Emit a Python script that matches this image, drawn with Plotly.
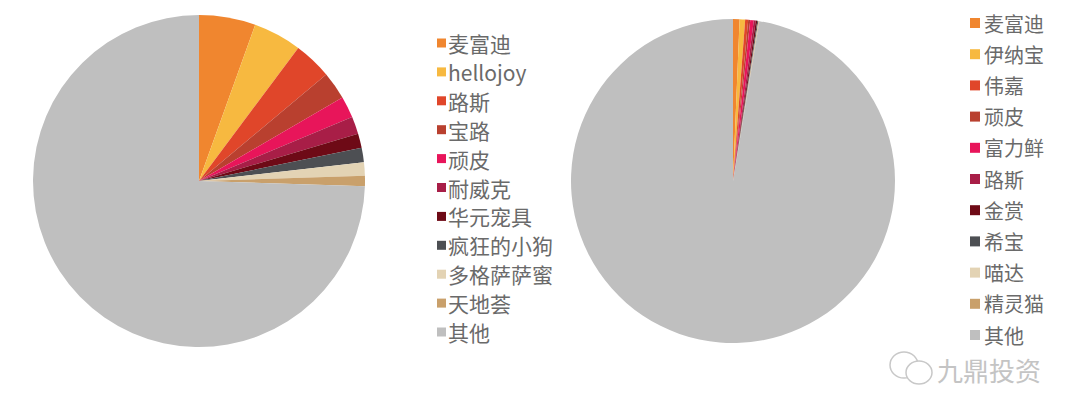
import plotly.graph_objects as go

# Left pie data
left_labels = ["麦富迪", "hellojoy", "路斯", "宝路", "顽皮", "耐威克", "华元宠具", "疯狂的小狗", "多格萨萨蜜", "天地荟", "其他"]
left_values = [5.5, 4.7, 3.7, 2.7, 2.1, 1.7, 1.4, 1.4, 1.3, 1.0, 74.5]

# Right pie data
right_labels = ["麦富迪", "伊纳宝", "伟嘉", "顽皮", "富力鲜", "路斯", "金赏", "希宝", "喵达", "精灵猫", "其他"]
right_values = [0.65, 0.55, 0.3, 0.2, 0.35, 0.2, 0.15, 0.1, 0.05, 0.05, 97.4]

colors = ["#F0862F", "#F7B940", "#E0462A", "#B9402F", "#E8155A", "#A81E47",
          "#6E0A16", "#4D4F53", "#E3D3B4", "#C9A06B", "#BFBFBF"]

W, H = 1080, 413
OFF = 8  # page body margin

def px_x(x):
    return (x - OFF) / W

def px_y(y):
    return 1 - (y - OFF) / H

fig = go.Figure()

fig.add_trace(go.Pie(
    labels=left_labels, values=left_values, sort=False, direction="clockwise",
    rotation=0, textinfo="none", hoverinfo="label+percent",
    marker=dict(colors=colors, line=dict(width=0)),
    domain=dict(x=[px_x(33), px_x(365)], y=[px_y(347), px_y(15)]),
    showlegend=False,
))
fig.add_trace(go.Pie(
    labels=right_labels, values=right_values, sort=False, direction="clockwise",
    rotation=0, textinfo="none", hoverinfo="label+percent",
    marker=dict(colors=colors, line=dict(width=0)),
    domain=dict(x=[px_x(571), px_x(895)], y=[px_y(343), px_y(19)]),
    showlegend=False,
))

shapes = []
annotations = []

def add_legend(labels, sq_x0, sq_size, text_x, y0, dy, font_size):
    for i, lab in enumerate(labels):
        yc = y0 + i * dy
        shapes.append(dict(type="rect", xref="paper", yref="paper",
                           x0=px_x(sq_x0), x1=px_x(sq_x0 + sq_size),
                           y0=px_y(yc + sq_size / 2), y1=px_y(yc - sq_size / 2),
                           fillcolor=colors[i], line=dict(width=0)))
        annotations.append(dict(xref="paper", yref="paper", x=px_x(text_x), y=px_y(yc),
                                xanchor="left", yanchor="middle", text=lab, showarrow=False,
                                font=dict(size=font_size, color="#6A6A6A",
                                          family="Noto Sans CJK SC, Noto Sans, sans-serif")))

add_legend(left_labels, 437, 9, 446, 43, 28.9, 21)
add_legend(right_labels, 970, 10, 982, 23, 31.2, 20)

# watermark
annotations.append(dict(xref="paper", yref="paper", x=px_x(935), y=px_y(369),
                        xanchor="left", yanchor="middle", text="九鼎投资", showarrow=False,
                        font=dict(size=26, color="#C4C4C4",
                                  family="Noto Sans CJK SC, sans-serif")))
# wechat-like icon
shapes.append(dict(type="circle", xref="paper", yref="paper",
                   x0=px_x(890), x1=px_x(918), y0=px_y(378), y1=px_y(352),
                   line=dict(color="#C8C8C8", width=1.5)))
shapes.append(dict(type="circle", xref="paper", yref="paper",
                   x0=px_x(906), x1=px_x(932), y0=px_y(384), y1=px_y(361),
                   line=dict(color="#C8C8C8", width=1.5), fillcolor="white"))

fig.update_layout(
    width=W, height=H,
    margin=dict(l=0, r=0, t=0, b=0),
    paper_bgcolor="white", plot_bgcolor="white",
    shapes=shapes, annotations=annotations,
)

fig.write_html("out.html")
